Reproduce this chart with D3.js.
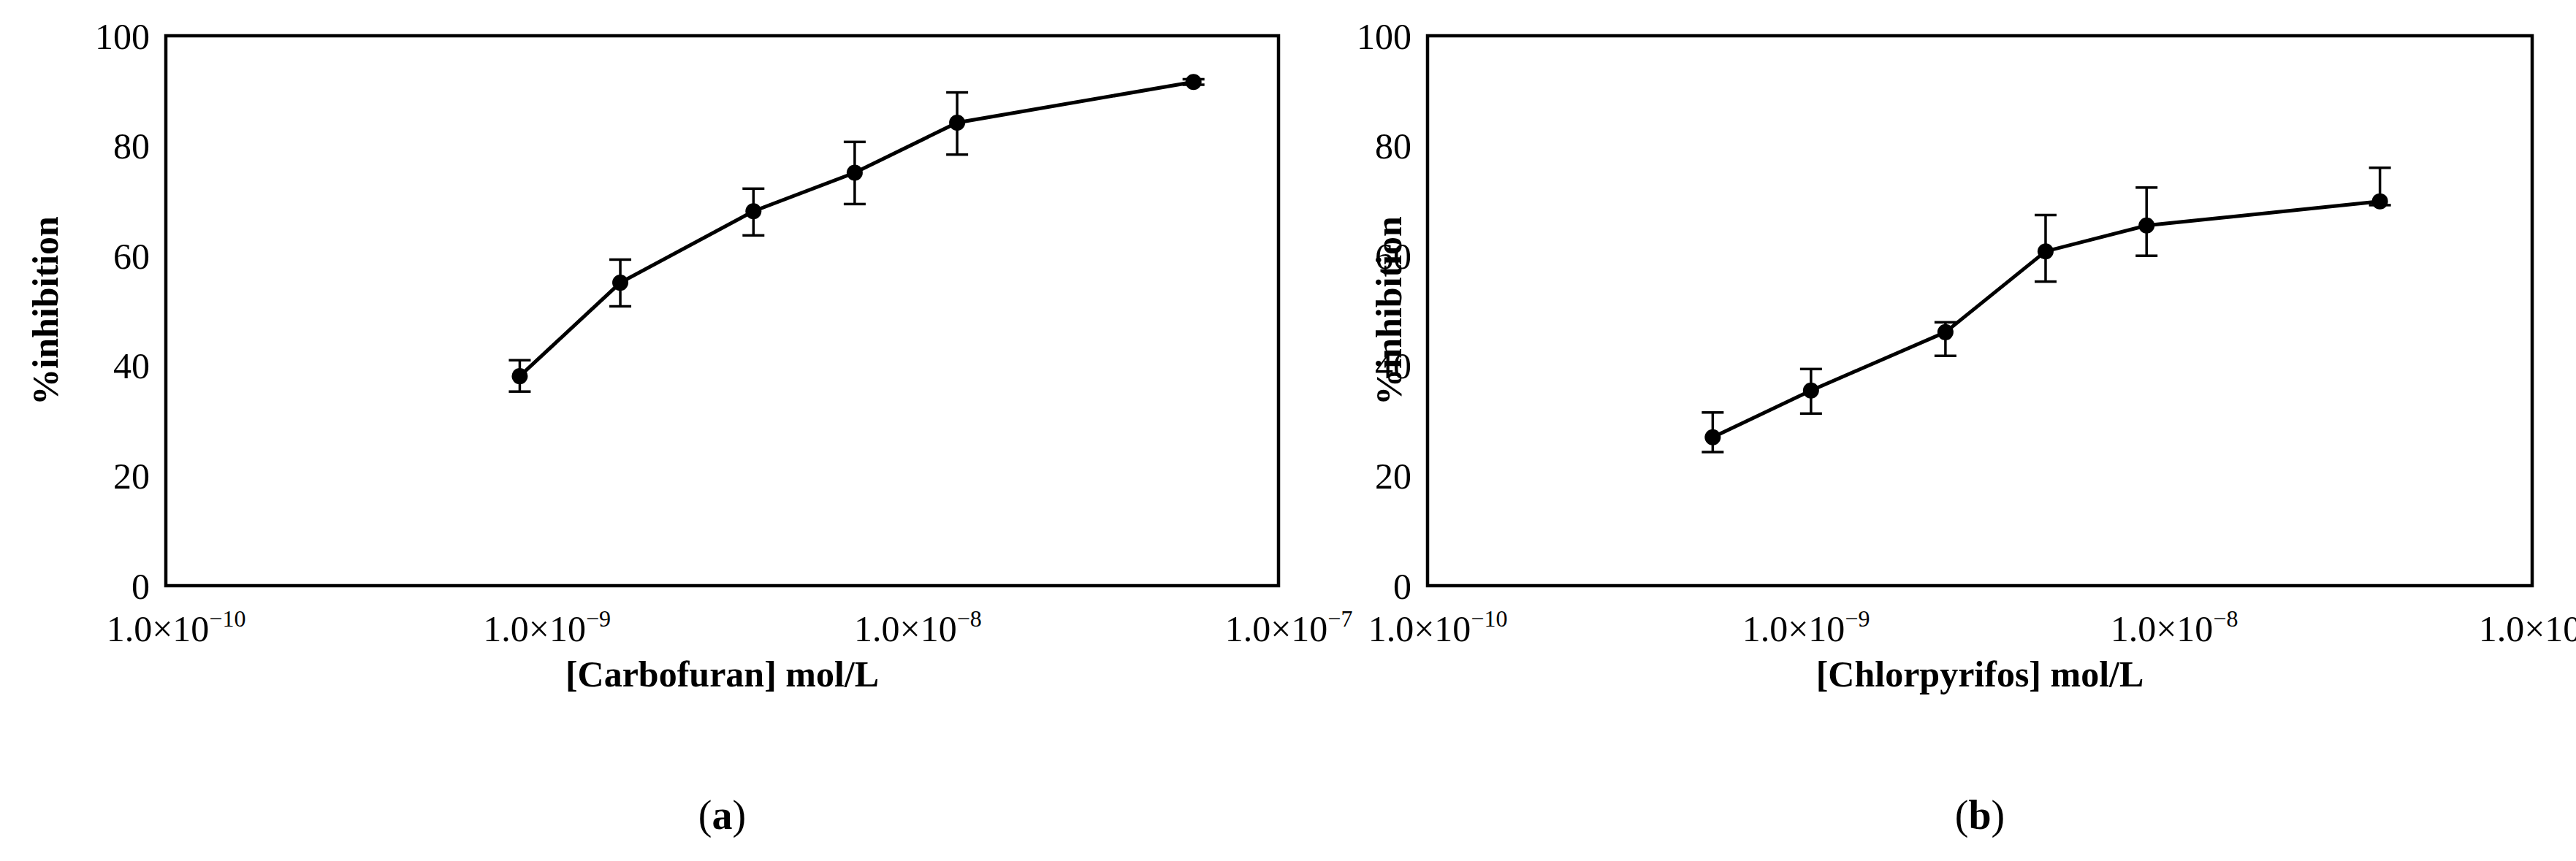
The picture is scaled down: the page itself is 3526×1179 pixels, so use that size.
<!DOCTYPE html>
<html><head><meta charset="utf-8">
<script src="https://cdn.jsdelivr.net/npm/d3@7"></script>
<style>body{margin:0;background:#fff}svg{display:block}text{font-family:"Liberation Serif","Times New Roman",serif;fill:#000}</style>
</head><body>
<script>
const xTicks = [1e-10, 1e-9, 1e-8, 1e-7];
const xTickExp = ["−10", "−9", "−8", "−7"];
const yTicks = [0, 20, 40, 60, 80, 100];
const concA = [9.0e-10, 1.68e-9, 3.84e-9, 7.2e-9, 1.36e-8, 5.9e-8];
const inhA = [38.1, 55.1, 68.1, 75.1, 84.2, 91.6];
const errA_up = [2.9, 4.2, 4.1, 5.6, 5.5, 0.5];
const errA_dn = [2.8, 4.3, 4.4, 5.7, 5.8, 0.5];
const concB = [5.95e-10, 1.10e-9, 2.55e-9, 4.77e-9, 8.97e-9, 3.86e-8];
const inhB = [27.0, 35.5, 46.1, 60.8, 65.5, 69.9];
const errB_up = [4.5, 3.9, 1.8, 6.6, 6.9, 6.1];
const errB_dn = [2.7, 4.2, 4.3, 5.5, 5.5, 0.7];
const panels = [
  {conc: concA, inh: inhA, up: errA_up, dn: errA_dn, title: "[Carbofuran] mol/L", label: "a", left: 227, right: 1750, ytx: 61},
  {conc: concB, inh: inhB, up: errB_up, dn: errB_dn, title: "[Chlorpyrifos] mol/L", label: "b", left: 1954, right: 3466, ytx: 1900}
];
const W = 3526, H = 1179, plotTop = 49, plotBottom = 802;
const svg = d3.select("body").append("svg").attr("width", W).attr("height", H);
panels.forEach(p => {
  const x = d3.scaleLog().domain([1e-10, 1e-7]).range([p.left, p.right]);
  const y = d3.scaleLinear().domain([0, 100]).range([plotBottom, plotTop]);
  const g = svg.append("g");
  g.selectAll(".yt").data(yTicks).join("text")
    .attr("x", p.left - 22).attr("y", d => y(d)).attr("dy", "0.35em")
    .attr("text-anchor", "end").attr("font-size", 50).text(d => d);
  const xt = g.selectAll(".xt").data(xTicks).join("text")
    .attr("x", (d) => x(d) + 14).attr("y", 878).attr("text-anchor", "middle").attr("font-size", 50);
  xt.append("tspan").text("1.0×10");
  xt.append("tspan").attr("font-size", 32).attr("dy", -20).text((d, i) => xTickExp[i]);
  g.append("rect").attr("x", p.left).attr("y", plotTop).attr("width", p.right - p.left).attr("height", plotBottom - plotTop)
    .attr("fill", "none").attr("stroke", "#000").attr("stroke-width", 4.5);
  const idx = d3.range(p.conc.length);
  g.append("path").datum(idx).attr("fill", "none").attr("stroke", "#000").attr("stroke-width", 5)
    .attr("d", d3.line().x(i => x(p.conc[i])).y(i => y(p.inh[i])));
  idx.forEach(i => {
    const cx = x(p.conc[i]), y1 = y(p.inh[i] + p.up[i]), y2 = y(p.inh[i] - p.dn[i]);
    g.append("line").attr("x1", cx).attr("x2", cx).attr("y1", y1).attr("y2", y2).attr("stroke", "#000").attr("stroke-width", 3.5);
    [y1, y2].forEach(yy => g.append("line").attr("x1", cx - 15).attr("x2", cx + 15).attr("y1", yy).attr("y2", yy).attr("stroke", "#000").attr("stroke-width", 3.5));
  });
  g.selectAll(".pt").data(idx).join("circle").attr("cx", i => x(p.conc[i])).attr("cy", i => y(p.inh[i]))
    .attr("r", 11).attr("fill", "#000");
  g.append("text").attr("x", (p.left + p.right) / 2).attr("y", 940).attr("text-anchor", "middle")
    .attr("font-size", 50).attr("font-weight", "bold").text(p.title);
  g.append("text").attr("transform", `translate(${p.ytx},${(plotTop + plotBottom) / 2}) rotate(-90)`).attr("dy", "0.35em")
    .attr("text-anchor", "middle").attr("font-size", 50).attr("font-weight", "bold").text("%inhibition");
  const lt = g.append("text").attr("x", (p.left + p.right) / 2).attr("y", 1135).attr("text-anchor", "middle").attr("font-size", 56);
  lt.append("tspan").text("(");
  lt.append("tspan").attr("font-weight", "bold").text(p.label);
  lt.append("tspan").text(")");
});
</script>
</body></html>
